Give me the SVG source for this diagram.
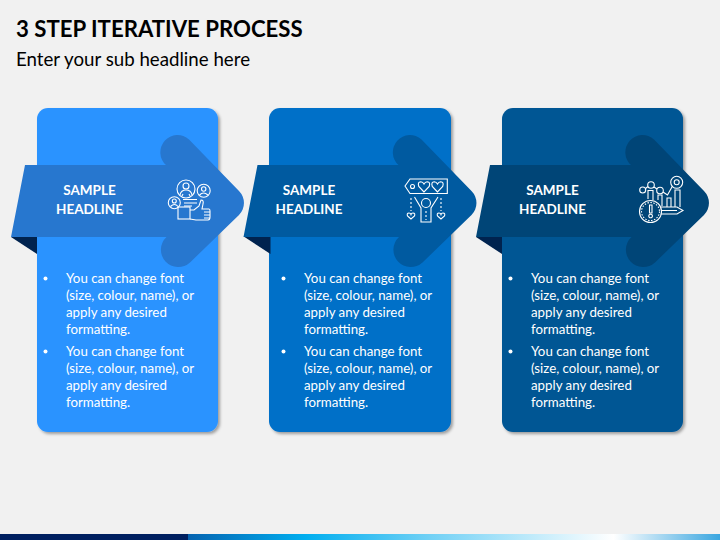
<svg xmlns="http://www.w3.org/2000/svg" width="720" height="540" viewBox="0 0 720 540">
<defs>
<filter id="sh" x="-10%" y="-10%" width="120%" height="120%"><feDropShadow dx="2" dy="2" stdDeviation="1.500" flood-color="#000" flood-opacity="0.35"/></filter>
<linearGradient id="bar" x1="188" x2="720" y1="0" y2="0" gradientUnits="userSpaceOnUse">
<stop offset="0" stop-color="#0563B0"/><stop offset="0.22" stop-color="#00AEEF"/><stop offset="0.45" stop-color="#6FD0F5"/><stop offset="0.8" stop-color="#FFFFFF"/><stop offset="1" stop-color="#3AA6E0"/>
</linearGradient>
<path id="arrow" d="M25 165H166A16 16 0 0 1 189 139.500L239 191A17 17 0 0 1 239 215L190 262.500A16.500 16.500 0 0 1 166.500 237H11Z"/>
<path id="fold" d="M11 237H37V254Z"/>
<g id="lines">
<text class="b"><tspan x="0" y="283">You can change font</tspan><tspan x="0" y="300">(size, colour, name), or</tspan><tspan x="0" y="317">apply any desired</tspan><tspan x="0" y="334">formatting.</tspan><tspan x="0" y="356">You can change font</tspan><tspan x="0" y="373">(size, colour, name), or</tspan><tspan x="0" y="390">apply any desired</tspan><tspan x="0" y="407">formatting.</tspan></text>
</g>
</defs>
<style>
text{font-family:"Lato","Liberation Sans",sans-serif;fill:#fff}
.t{font-size:22.200px;font-weight:700;fill:#000}
.s{font-size:18.700px;fill:#000}
.h{font-size:13.500px;font-weight:700;text-anchor:middle}
.b{font-size:13.300px}
.ic{fill:none;stroke:#fff;stroke-width:1.100}
.icd{fill:none;stroke:#fff;stroke-width:1.100;stroke-dasharray:2 2}
</style>
<rect width="720" height="540" fill="#F1F1F1"/>
<text class="t" x="16" y="36.500">3 STEP ITERATIVE PROCESS</text>
<text class="s" x="16" y="66">Enter your sub headline here</text>

<g id="step1">
<rect x="37" y="108" width="181" height="324" rx="11" fill="#2B93FF" filter="url(#sh)"/>
<use href="#fold" fill="#00234F"/>
<use href="#arrow" fill="#2777CF"/>
<text class="h" x="89.500" y="194.500">SAMPLE</text><text class="h" x="89.500" y="213.500">HEADLINE</text>
<g id="icon1" class="ic">
<circle cx="186" cy="189" r="9"/><circle cx="186" cy="186" r="3"/><path d="M180 195q1-5 6-5t6 5M182 196l1-2M190 196l-1-2"/>
<circle cx="203.700" cy="190.700" r="6.500"/><circle cx="203.700" cy="189" r="2.200"/><path d="M199.500 195q4-4 8.400 0"/>
<circle cx="174.300" cy="202.700" r="6"/><circle cx="174.300" cy="201" r="2"/><path d="M170.500 206.500q4-4 7.600 0"/>
<path d="M183 199.500H197M184 203H197M184 206H192"/>
<rect x="178" y="207" width="12" height="12"/>
<path d="M190 210h4l5-4 2-6q3 0 2 4l-1 5h7q1 0 1 2v6q0 3-2 3h-12l-6-1M204 212h6M204 215h6M204 218h6"/>
</g>
<circle cx="45.500" cy="278.500" r="2" fill="#fff"/><circle cx="45.500" cy="351.500" r="2" fill="#fff"/>
<use href="#lines" x="66"/>
</g>

<g id="step2">
<rect x="269" y="108" width="182" height="324" rx="11" fill="#0070C8" filter="url(#sh)"/>
<use href="#fold" x="233.500" fill="#00234F"/>
<use href="#arrow" x="232.500" fill="#005AA0"/>
<text class="h" x="309" y="194.500">SAMPLE</text><text class="h" x="309" y="213.500">HEADLINE</text>
<g id="icon2" class="ic">
<path d="M405 186L410 179H447.300V193.500H410Z"/><circle cx="412.500" cy="186.500" r="2"/>
<path d="M424 192l-5.200-5.500q-1.500-4.500 2-4.800 2 0 3.200 2.300 1.200-2.300 3.200-2.300 3.500.300 2 4.800Z"/>
<path d="M437.500 192l-5.200-5.500q-1.500-4.500 2-4.800 2 0 3.200 2.300 1.200-2.300 3.200-2.300 3.500.300 2 4.800Z"/>
<circle cx="426" cy="203" r="4.500"/>
<path d="M414.500 197L421 208V222H431V208L438 197"/>
<path d="M411 219l-3.500-3q-1-3 1.500-3 1.500 0 2 1.500 .5-1.500 2-1.500 2.500 0 1.500 3Z"/>
<path d="M441 219l-3.500-3q-1-3 1.500-3 1.500 0 2 1.500 .5-1.500 2-1.500 2.500 0 1.500 3Z"/>
<path class="icd" d="M411 198V211M441 198V211M426 211V220"/>
</g>
<circle cx="283.500" cy="278.500" r="2" fill="#fff"/><circle cx="283.500" cy="351.500" r="2" fill="#fff"/>
<use href="#lines" x="304"/>
</g>

<g id="step3">
<rect x="502" y="108" width="181" height="324" rx="11" fill="#005694" filter="url(#sh)"/>
<use href="#fold" x="465" fill="#00234F"/>
<use href="#arrow" x="465" fill="#004577"/>
<text class="h" x="552.500" y="194.500">SAMPLE</text><text class="h" x="552.500" y="213.500">HEADLINE</text>
<g id="icon3" class="ic">
<circle cx="642.700" cy="190" r="3"/><circle cx="651" cy="185" r="3.300"/><circle cx="660" cy="190.500" r="3.300"/>
<circle cx="676.700" cy="182.300" r="6"/><circle cx="676.700" cy="182.300" r="2.500"/>
<path d="M645.500 188.500l2.500-2M654 187l3 2M663 192l4.500 3 5-9"/>
<path d="M648 199V190.500H653V200M658 200V195H662V206M667 207V198H671V207M675 207V190H680V207"/>
<path d="M661 207H677L683 210.500L677 214H660M661 210.500H677"/>
<circle cx="650.500" cy="211.500" r="11" fill="#004577"/>
<circle cx="650.500" cy="211.500" r="9" stroke-dasharray="1.500 1.500"/>
<path d="M649.500 205h2.500v8h-2.500ZM648.800 216a1.800 1.800 0 1 0 3.600 0a1.800 1.800 0 1 0-3.600 0Z"/>
</g>
<circle cx="510.500" cy="278.500" r="2" fill="#fff"/><circle cx="510.500" cy="351.500" r="2" fill="#fff"/>
<use href="#lines" x="531"/>
</g>

<rect x="0" y="534" width="188" height="6" fill="#002060"/>
<rect x="188" y="534" width="532" height="6" fill="url(#bar)"/>
</svg>
